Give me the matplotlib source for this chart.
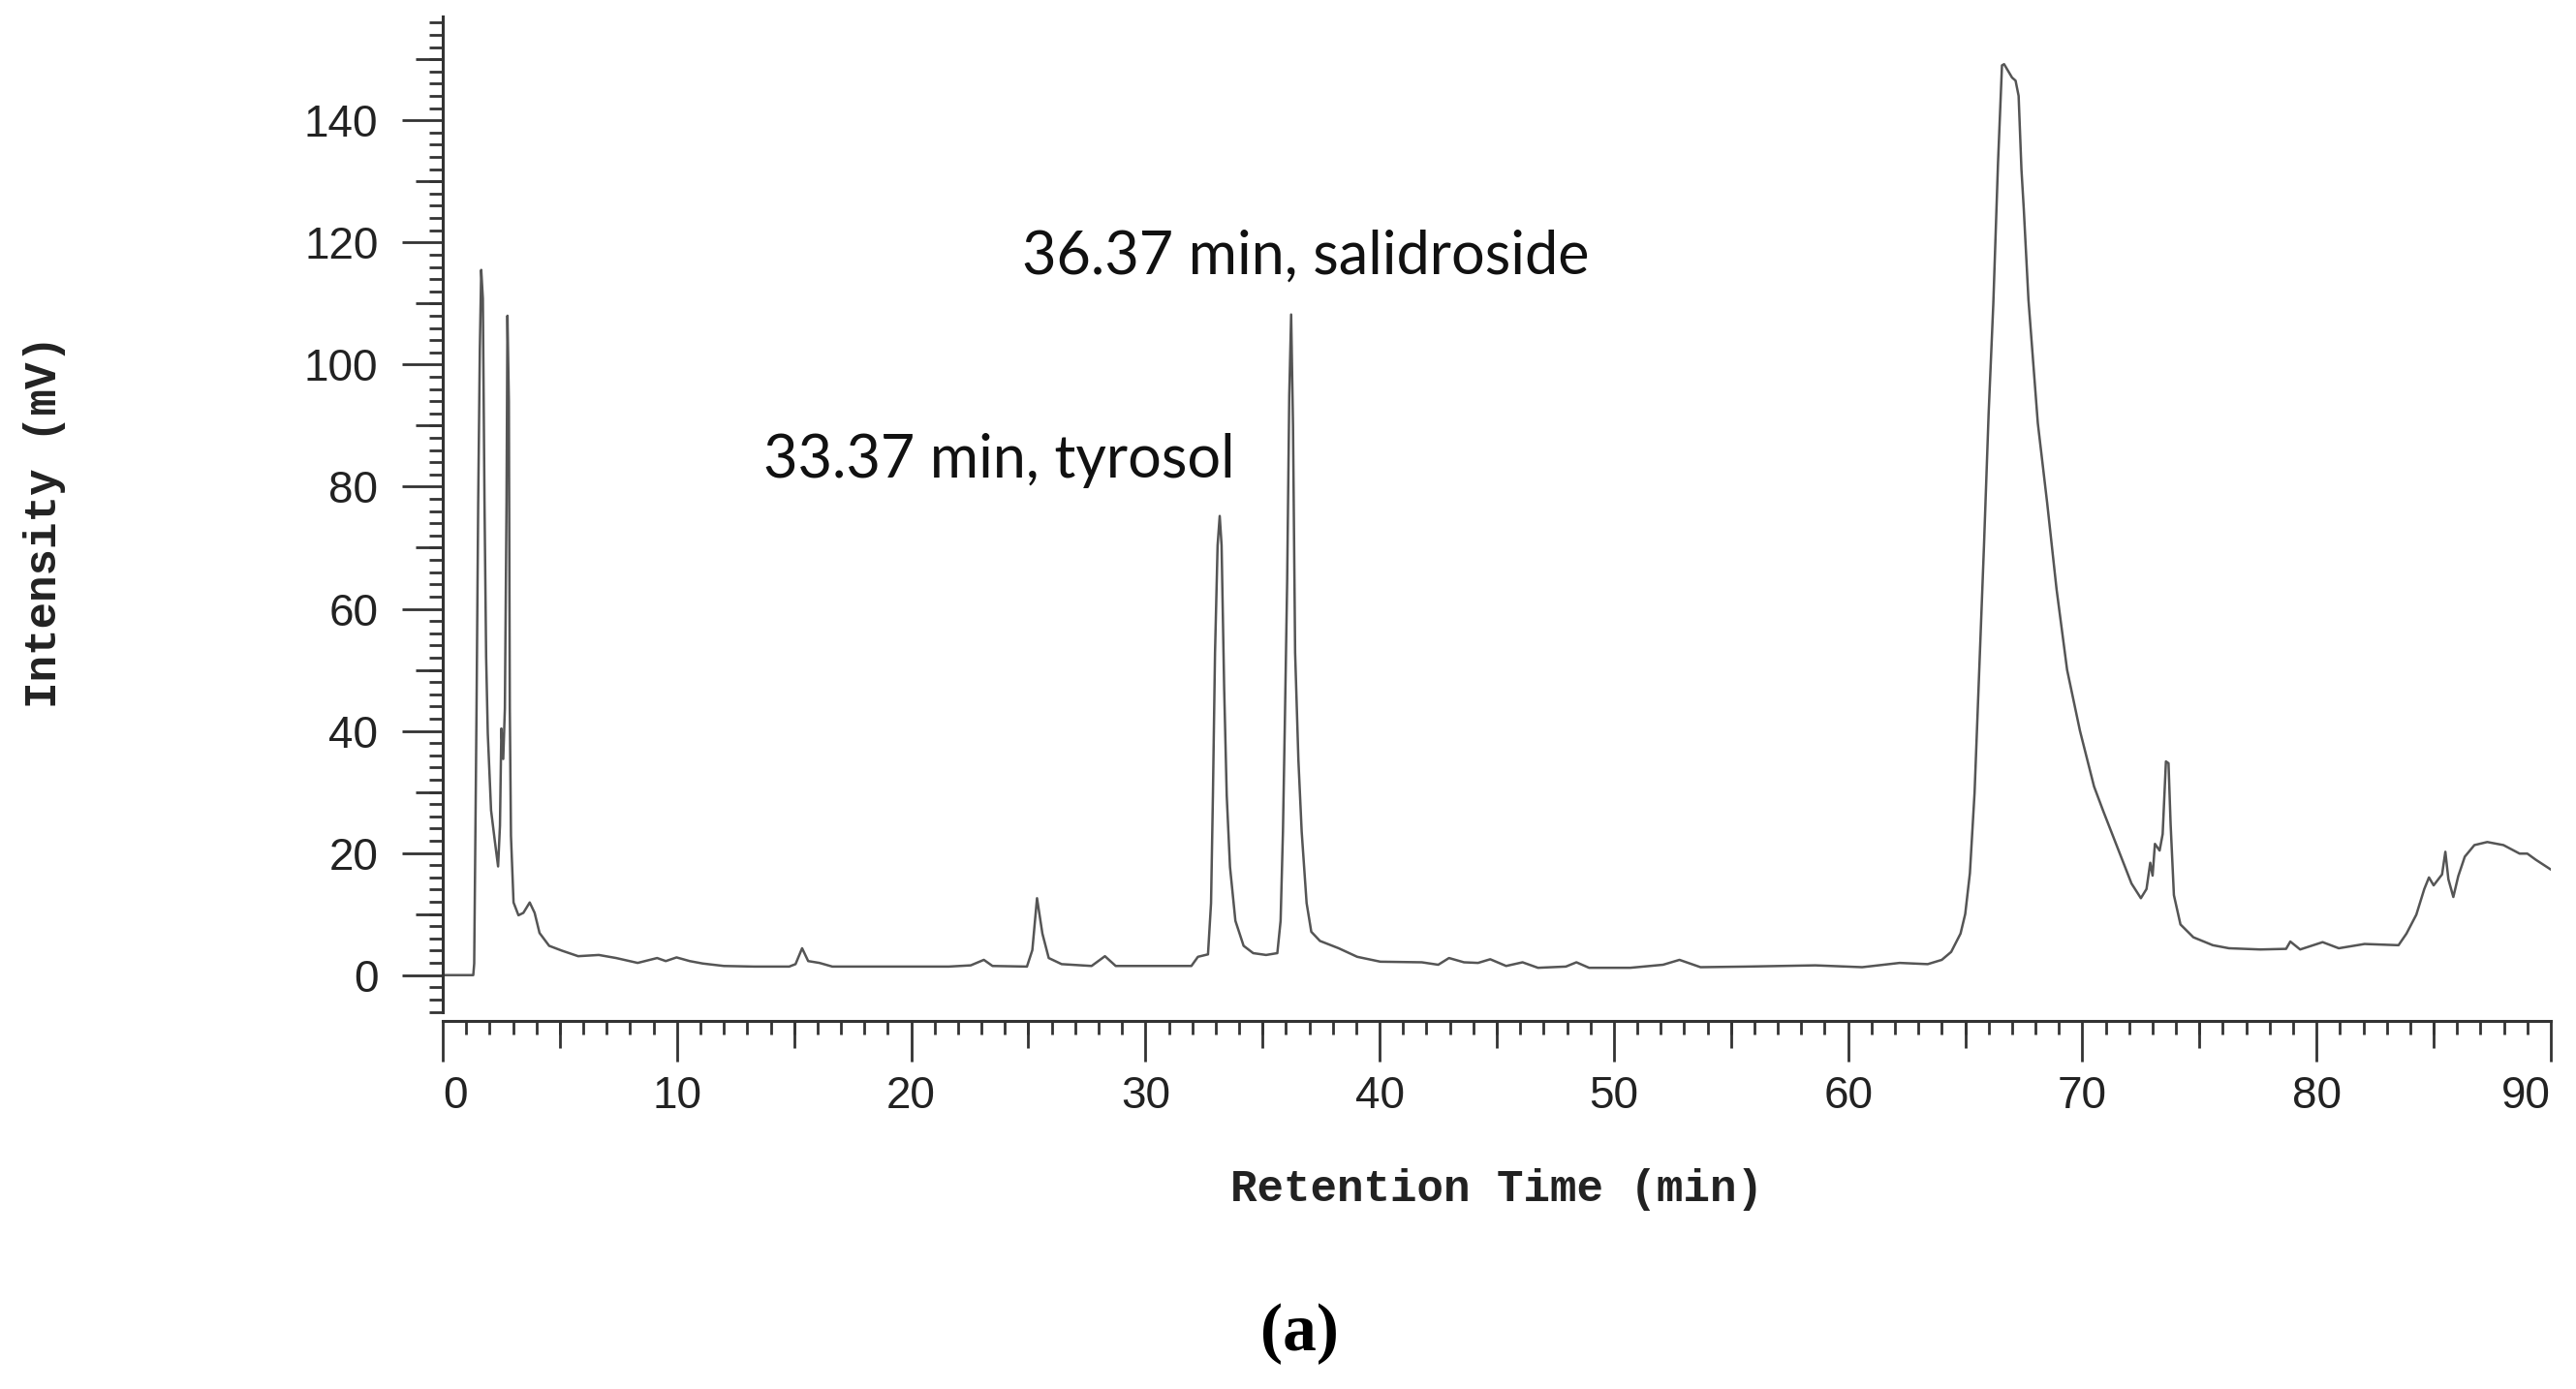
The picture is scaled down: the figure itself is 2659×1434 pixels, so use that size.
import matplotlib.pyplot as plt
from matplotlib.ticker import MultipleLocator

# chromatogram trace (retention time in min, intensity in mV)
time = [0.0, 1.30, 1.34, 1.44, 1.51, 1.58, 1.64, 1.71, 1.78, 1.85, 1.92, 2.06, 2.22, 2.36,
        2.44, 2.50, 2.58, 2.65, 2.72, 2.76, 2.82, 2.86, 2.91, 3.02, 3.23, 3.44, 3.71, 3.92,
        4.13, 4.54, 5.09, 5.78, 6.66, 7.40, 8.32, 9.15, 9.52, 9.98, 10.54, 11.10, 12.00,
        13.30, 14.79, 15.06, 15.34, 15.60, 16.08, 16.63, 18.85, 21.60, 22.54, 23.10, 23.47,
        24.94, 25.17, 25.37, 25.60, 25.87, 26.42, 27.70, 28.27, 28.73, 31.96, 32.24, 32.67,
        32.80, 32.88, 32.97, 33.08, 33.17, 33.25, 33.36, 33.47, 33.61, 33.84, 34.19, 34.60,
        35.15, 35.63, 35.77, 35.87, 35.95, 36.05, 36.14, 36.22, 36.30, 36.39, 36.53, 36.67,
        36.88, 37.08, 37.45, 38.25, 39.04, 40.03, 41.80, 42.50, 42.96, 43.60, 44.20, 44.72,
        45.40, 46.10, 46.76, 47.95, 48.40, 48.94, 50.70, 52.10, 52.80, 53.70, 55.67, 58.60,
        60.60, 62.20, 63.40, 64.00, 64.40, 64.80, 65.00, 65.20, 65.40, 65.60, 65.80, 66.00,
        66.20, 66.40, 66.57, 66.66, 67.00, 67.15, 67.28, 67.40, 67.50, 67.70, 67.90, 68.10,
        68.50, 68.90, 69.35, 69.90, 70.50, 70.90, 71.60, 72.10, 72.50, 72.74, 72.90, 73.00,
        73.10, 73.30, 73.43, 73.57, 73.68, 73.77, 73.91, 74.19, 74.74, 75.57, 76.26, 77.60,
        78.70, 78.88, 79.30, 80.26, 80.95, 82.05, 83.50, 83.84, 84.26, 84.60, 84.80, 85.00,
        85.20, 85.36, 85.50, 85.63, 85.84, 86.05, 86.33, 86.74, 87.29, 87.98, 88.67, 89.00,
        89.36, 90.00]
intensity = [0.0, 0.0, 1.9, 43.7, 77.3, 102.4, 115.5, 110.8, 77.3, 52.1, 39.6, 27.0, 22.0, 17.8,
             24.5, 40.4, 35.4, 43.7, 77.3, 108.0, 94.0, 43.7, 22.8, 11.9, 9.8, 10.2, 11.9, 10.2,
             6.9, 4.8, 4.0, 3.1, 3.3, 2.8, 2.0, 2.8, 2.3, 2.9, 2.3, 1.9, 1.5,
             1.4, 1.4, 1.8, 4.4, 2.3, 2.0, 1.4, 1.4, 1.4, 1.6, 2.5, 1.5,
             1.4, 4.1, 12.6, 6.8, 2.8, 1.8, 1.5, 3.1, 1.5, 1.5, 3.0, 3.4,
             11.8, 29.4, 52.8, 70.4, 75.2, 70.4, 47.0, 29.4, 17.7, 8.9, 4.8, 3.6,
             3.3, 3.6, 8.9, 23.5, 41.1, 64.5, 95.0, 108.2, 90.0, 52.8, 35.2, 23.5,
             11.8, 7.1, 5.6, 4.4, 3.0, 2.2, 2.1, 1.7, 2.8, 2.1, 2.0, 2.6,
             1.5, 2.1, 1.2, 1.4, 2.1, 1.2, 1.2, 1.7, 2.5, 1.3, 1.4, 1.6,
             1.3, 2.0, 1.8, 2.5, 3.8, 6.8, 10.0, 16.7, 29.9, 50.0, 70.2, 92.0,
             110.0, 133.0, 149.0, 149.2, 147.0, 146.5, 144.0, 132.0, 125.5, 110.6, 100.5, 90.4,
             77.3, 63.2, 50.0, 40.0, 30.9, 26.8, 19.9, 15.0, 12.6, 14.1, 18.4, 16.3,
             21.5, 20.4, 23.1, 35.0, 34.7, 24.7, 13.1, 8.3, 6.2, 4.9, 4.4, 4.2,
             4.3, 5.5, 4.2, 5.4, 4.4, 5.1, 4.9, 6.8, 9.9, 14.1, 16.0, 14.7,
             15.7, 16.5, 20.2, 15.7, 12.8, 16.2, 19.4, 21.3, 21.8, 21.3, 19.9, 19.9,
             18.9, 17.3]

x_major = list(range(0, 91, 10))
x_mid = list(range(5, 90, 10))
y_major = list(range(0, 141, 20))
y_mid = list(range(10, 151, 20))

peak_names = ["33.37 min, tyrosol", "36.37 min, salidroside"]
peak_text_at = [(23.75, 84.3), (36.84, 117.6)]

axis_col = '#333333'

fig = plt.figure(figsize=(26.59, 14.34), dpi=100)
ax = fig.add_axes([0.1719, 0.2650, 0.8183, 0.7231])

ax.plot(time, intensity, color='#555555', lw=1.8)

ax.set_xlim(0, 90)
ax.set_ylim(-7.5, 157)

ax.spines['top'].set_visible(False)
ax.spines['right'].set_visible(False)
ax.spines['left'].set_bounds(-6, 157)
for s in ['left', 'bottom']:
    ax.spines[s].set_linewidth(2.2)
    ax.spines[s].set_color(axis_col)

ax.set_xticks(x_major)
ax.set_yticks(y_major)
ax.xaxis.set_minor_locator(MultipleLocator(1))
ax.yaxis.set_minor_locator(MultipleLocator(2))
ax.tick_params(which='major', length=30, width=2, color=axis_col, direction='out',
               labelsize=33, labelcolor='#222222')
ax.tick_params(axis='y', which='major', pad=18)
ax.tick_params(axis='x', which='major', pad=10)
ax.tick_params(which='minor', length=10, width=2, color=axis_col, direction='out')
for lab in ax.get_xticklabels() + ax.get_yticklabels():
    lab.set_family('Liberation Sans')
# end labels sit inside the axis ends
xl = ax.get_xticklabels()
xl[0].set_ha('left')
xl[-1].set_ha('right')

# medium ticks (every 10 on y, every 5 on x)
sx = ax.secondary_xaxis('bottom')
sx.set_xticks(x_mid, labels=[])
sx.spines['bottom'].set_visible(False)
sx.tick_params(length=20, width=2, color=axis_col, direction='out')
sy = ax.secondary_yaxis('left')
sy.set_yticks(y_mid, labels=[])
sy.spines['left'].set_visible(False)
sy.tick_params(length=20, width=2, color=axis_col, direction='out')

ax.set_xlabel('Retention Time (min)', family='Liberation Mono', fontweight='bold',
              fontsize=33, color='#222222')
ax.set_ylabel('Intensity (mV)', family='Liberation Mono', fontweight='bold',
              fontsize=33, color='#222222')
ax.xaxis.label.set_va('center')
ax.yaxis.label.set_va('center')
ax.xaxis.set_label_coords(0.5, -0.168)
ax.yaxis.set_label_coords(-0.189, 0.497)

for name, (tx, ty) in zip(peak_names, peak_text_at):
    ax.text(tx, ty, name, ha='center', va='center', fontsize=44, family='Lato',
            color='#111111')

fig.text(0.5045, 0.040, '(a)', ha='center', va='center', fontsize=50,
         family='Liberation Serif', fontweight='bold')

fig.savefig('out.png', dpi=100)
